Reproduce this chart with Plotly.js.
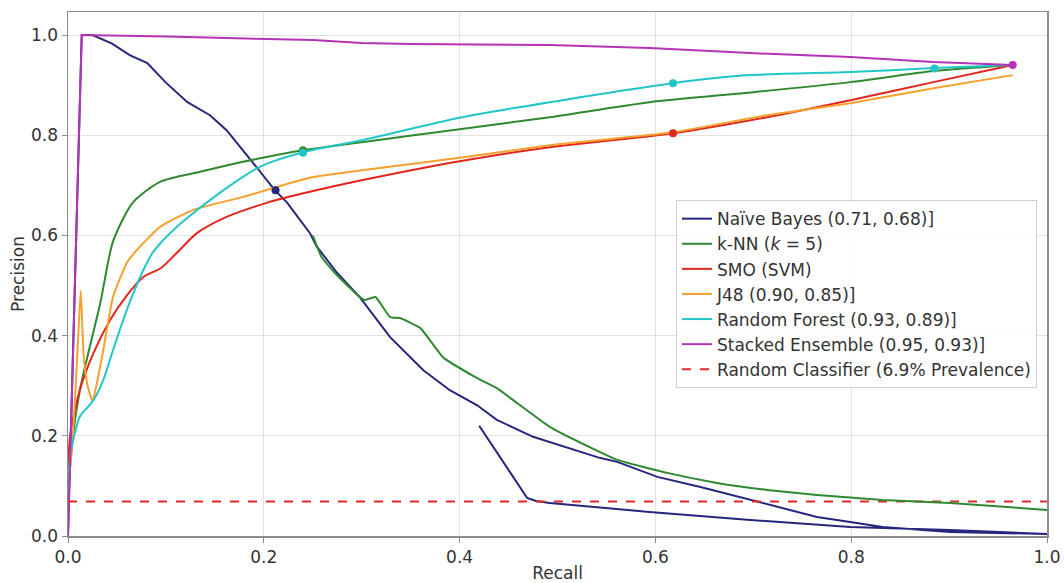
<!DOCTYPE html>
<html>
<head>
<meta charset="utf-8">
<script src="https://cdn.plot.ly/plotly-3.0.1.min.js"></script>
<style>html,body{margin:0;padding:0;background:#fff;}#chart{width:1064px;height:583px;}</style>
</head>
<body>
<div id="chart"></div>
<script>
// ---- Data ----
const seriesNames = [
  "Naïve Bayes (0.71, 0.68)]",
  "k-NN (<i>k</i> = 5)",
  "SMO (SVM)",
  "J48 (0.90, 0.85)]",
  "Random Forest (0.93, 0.89)]",
  "Stacked Ensemble (0.95, 0.93)]",
  "Random Classifier (6.9% Prevalence)"
];

const nbRecall = [0, 0.007, 0.014, 0.025, 0.045, 0.063, 0.081, 0.1, 0.122, 0.145, 0.162, 0.189, 0.211, 0.224, 0.247, 0.254, 0.275, 0.298, 0.329, 0.363, 0.39, 0.418, 0.438, 0.475, 0.543, 0.561, 0.602, 0.646, 0.697, 0.73, 0.765, 0.799, 0.832, 0.901, 1.0, 0.901, 0.799, 0.697, 0.594, 0.492, 0.478, 0.469, 0.42];
const nbPrecision = [0, 0.5, 1.0, 1.0, 0.983, 0.96, 0.944, 0.905, 0.866, 0.84, 0.81, 0.745, 0.691, 0.665, 0.605, 0.578, 0.525, 0.477, 0.397, 0.331, 0.291, 0.261, 0.232, 0.198, 0.156, 0.148, 0.118, 0.098, 0.072, 0.056, 0.038, 0.028, 0.018, 0.008, 0.004, 0.012, 0.018, 0.032, 0.048, 0.066, 0.07, 0.076, 0.22];

const knnRecall = [0, 0.005, 0.012, 0.019, 0.033, 0.046, 0.066, 0.094, 0.135, 0.179, 0.24, 0.3, 0.4, 0.492, 0.594, 0.7, 0.799, 0.884, 0.965];
const knnPrecision = [0.08, 0.2, 0.29, 0.351, 0.465, 0.588, 0.665, 0.707, 0.727, 0.747, 0.77, 0.786, 0.812, 0.836, 0.866, 0.886, 0.906, 0.928, 0.94];
const knnTailRecall = [0.25, 0.259, 0.275, 0.298, 0.303, 0.314, 0.329, 0.339, 0.36, 0.383, 0.418, 0.438, 0.459, 0.492, 0.543, 0.561, 0.612, 0.663, 0.714, 0.765, 0.832, 0.901, 1.0];
const knnTailPrecision = [0.60, 0.557, 0.52, 0.477, 0.471, 0.477, 0.437, 0.435, 0.415, 0.357, 0.315, 0.295, 0.265, 0.218, 0.168, 0.152, 0.126, 0.106, 0.092, 0.082, 0.072, 0.066, 0.052];

const smoRecall = [0, 0.002, 0.012, 0.026, 0.043, 0.06, 0.077, 0.095, 0.111, 0.132, 0.162, 0.203, 0.247, 0.3, 0.4, 0.492, 0.618, 0.714, 0.799, 0.884, 0.965];
const smoPrecision = [0.1, 0.198, 0.291, 0.365, 0.431, 0.48, 0.517, 0.535, 0.565, 0.605, 0.637, 0.665, 0.687, 0.71, 0.748, 0.776, 0.804, 0.836, 0.87, 0.906, 0.94];

const j48Recall = [0, 0.005, 0.01, 0.013, 0.016, 0.02, 0.025, 0.03, 0.036, 0.046, 0.06, 0.07, 0.094, 0.128, 0.179, 0.247, 0.3, 0.4, 0.492, 0.618, 0.714, 0.799, 0.884, 0.965];
const j48Precision = [0.09, 0.2, 0.38, 0.49, 0.36, 0.3, 0.27, 0.31, 0.371, 0.477, 0.545, 0.57, 0.617, 0.651, 0.677, 0.715, 0.73, 0.755, 0.78, 0.806, 0.84, 0.864, 0.894, 0.92];

const rfRecall = [0, 0.002, 0.012, 0.02, 0.026, 0.036, 0.046, 0.06, 0.077, 0.087, 0.111, 0.155, 0.196, 0.24, 0.3, 0.4, 0.492, 0.618, 0.697, 0.799, 0.884, 0.965];
const rfPrecision = [0.07, 0.158, 0.238, 0.257, 0.271, 0.311, 0.371, 0.451, 0.531, 0.567, 0.617, 0.685, 0.737, 0.766, 0.79, 0.835, 0.866, 0.904, 0.92, 0.926, 0.934, 0.94];

const seRecall = [0, 0.007, 0.014, 0.1, 0.2, 0.25, 0.3, 0.35, 0.492, 0.594, 0.697, 0.799, 0.884, 0.965];
const sePrecision = [0, 0.5, 1.0, 0.997, 0.993, 0.99, 0.984, 0.982, 0.98, 0.974, 0.964, 0.956, 0.946, 0.94];

const prevalence = 0.069;
const baselineRecall = [0, 1];

// operating points (markers)
const nbPointR = [0.212], nbPointP = [0.69];
const knnPointR = [0.24], knnPointP = [0.77];
const smoPointR = [0.618], smoPointP = [0.804];
const rfPointR = [0.24, 0.618, 0.885], rfPointP = [0.765, 0.904, 0.933];
const sePointR = [0.965], sePointP = [0.94];

const xTicks = [0, 0.2, 0.4, 0.6, 0.8, 1.0];
const yTicks = [0, 0.2, 0.4, 0.6, 0.8, 1.0];

// ---- Styles ----
const C = {
  nb: "#26267e", knn: "#2f8a2f", smo: "#e2261c", j48: "#f7a02e",
  rf: "#22c6c8", se: "#b533b5", base: "#e02a2a"
};
const LW = 2;

function line(x, y, name, color, opts, smooth) {
  const ln = { color: color, width: LW };
  if (smooth) { ln.shape = "spline"; ln.smoothing = smooth; }
  return Object.assign({
    type: "scatter", mode: "lines", x: x, y: y, name: name,
    line: ln, hoverinfo: "skip"
  }, opts || {});
}
function pts(x, y, color) {
  return { type: "scatter", mode: "markers", x: x, y: y, showlegend: false,
    marker: { color: color, size: 8 }, hoverinfo: "skip" };
}

const traces = [
  line(nbRecall, nbPrecision, seriesNames[0], C.nb),
  line(knnRecall, knnPrecision, seriesNames[1], C.knn, { legendgroup: "knn" }, 0.7),
  line(smoRecall, smoPrecision, seriesNames[2], C.smo, null, 0.7),
  line(j48Recall, j48Precision, seriesNames[3], C.j48, null, 0.5),
  line(rfRecall, rfPrecision, seriesNames[4], C.rf, null, 0.7),
  line(seRecall, sePrecision, seriesNames[5], C.se),
  line(baselineRecall, baselineRecall.map(() => prevalence), seriesNames[6], C.base,
       { line: { color: C.base, width: LW, dash: "dash" } }),
  line(knnTailRecall, knnTailPrecision, seriesNames[1], C.knn, { legendgroup: "knn", showlegend: false }, 0.4),
  pts(nbPointR, nbPointP, C.nb),
  pts(knnPointR, knnPointP, C.knn),
  pts(smoPointR, smoPointP, C.smo),
  pts(rfPointR, rfPointP, C.rf),
  pts(sePointR, sePointP, C.se)
];

const axisCommon = {
  showline: true, mirror: true, linecolor: "#8c8c8c", linewidth: 1.5,
  ticks: "outside", ticklen: 5, tickcolor: "#8c8c8c", tickwidth: 1,
  showgrid: true, gridcolor: "#e2e2e2", gridwidth: 1, zeroline: false,
  tickformat: ".1f", tickfont: { size: 17, color: "#333" }
};

const layout = {
  width: 1064, height: 583,
  margin: { l: 68, r: 17, t: 12, b: 47 },
  paper_bgcolor: "#fff", plot_bgcolor: "#fff",
  font: { family: "DejaVu Sans, sans-serif", size: 17, color: "#333" },
  xaxis: Object.assign({}, axisCommon, {
    range: [0, 1], tickvals: xTicks,
    title: { text: "Recall", font: { size: 17, color: "#333" }, standoff: 3 }
  }),
  yaxis: Object.assign({}, axisCommon, {
    range: [0, 1.046], tickvals: yTicks,
    title: { text: "Precision", font: { size: 17, color: "#333" }, standoff: 2 }
  }),
  legend: {
    x: 0.621, y: 0.641, xanchor: "left", yanchor: "top",
    bgcolor: "rgba(255,255,255,0.85)", bordercolor: "#cfcfcf", borderwidth: 1,
    font: { size: 17, color: "#333" }, tracegroupgap: 0
  },
  showlegend: true
};

Plotly.newPlot("chart", traces, layout, { staticPlot: true, displayModeBar: false });
</script>
</body>
</html>
